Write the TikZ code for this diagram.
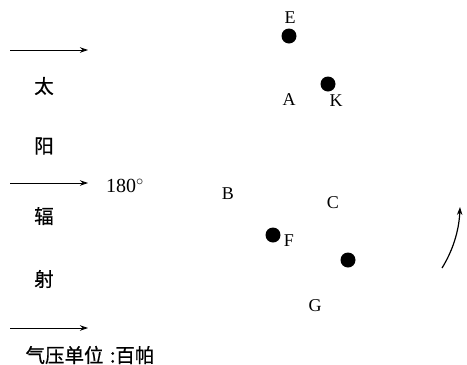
\documentclass[tikz,border=0pt]{standalone}
\usepackage{fontspec}
\setmainfont{Liberation Serif}
\newfontfamily\cjk[FakeBold=0.6]{Noto Sans CJK SC}
\usetikzlibrary{arrows.meta}
\begin{document}
\begin{tikzpicture}[x=1pt,y=-1pt,
  lbl/.style={font=\fontsize{18}{18}\selectfont, inner sep=0pt},
  zh/.style={font=\cjk\fontsize{19.5}{19.5}\selectfont, inner sep=0pt},
  pt/.style={circle, fill=black, minimum size=15pt, inner sep=0pt},
  wind/.style={-{Stealth[length=8pt,width=5.5pt]}, line width=0.9pt}]
\useasboundingbox (0,0) rectangle (467,365);
\coordinate (w1s) at (10,50); \coordinate (w1e) at (88,50);
\coordinate (w2s) at (10,183); \coordinate (w2e) at (88,183);
\coordinate (w3s) at (10,328); \coordinate (w3e) at (88,328);
\draw[wind] (w1s) -- (w1e);
\draw[wind] (w2s) -- (w2e);
\draw[wind] (w3s) -- (w3e);
\node[lbl, font=\fontsize{20}{20}\selectfont] (deg) at (125,186) {180$^\circ$};
\node[zh] (t1) at (44,86) {太};
\node[zh] (t2) at (44,146) {阳};
\node[zh] (t3) at (44,216) {辐};
\node[zh] (t4) at (44,279) {射};
\node[font=\cjk\fontsize{19.5}{19.5}\selectfont, inner sep=0pt] (unit) at (90,355) {气压单位\,\,:百帕};
\node[lbl] (E) at (290,18) {E};
\node[pt] (pE) at (289,36) {};
\node[pt] (pK) at (328,84) {};
\node[lbl] (K) at (336,101) {K};
\node[lbl] (A) at (289,100) {A};
\node[lbl] (B) at (228,194) {B};
\node[lbl] (C) at (333,203) {C};
\node[pt] (pF) at (273,235) {};
\node[lbl] (F) at (289,241) {F};
\node[pt] (pG) at (348,260) {};
\node[lbl] (G) at (315,306) {G};
\coordinate (cs) at (442,268);
\coordinate (ce) at (460,207);
\draw[-{Stealth[length=8pt,width=5.5pt]}, line width=1.2pt] (cs) .. controls (452,252) and (459,232) .. (ce);
\end{tikzpicture}
\end{document}
